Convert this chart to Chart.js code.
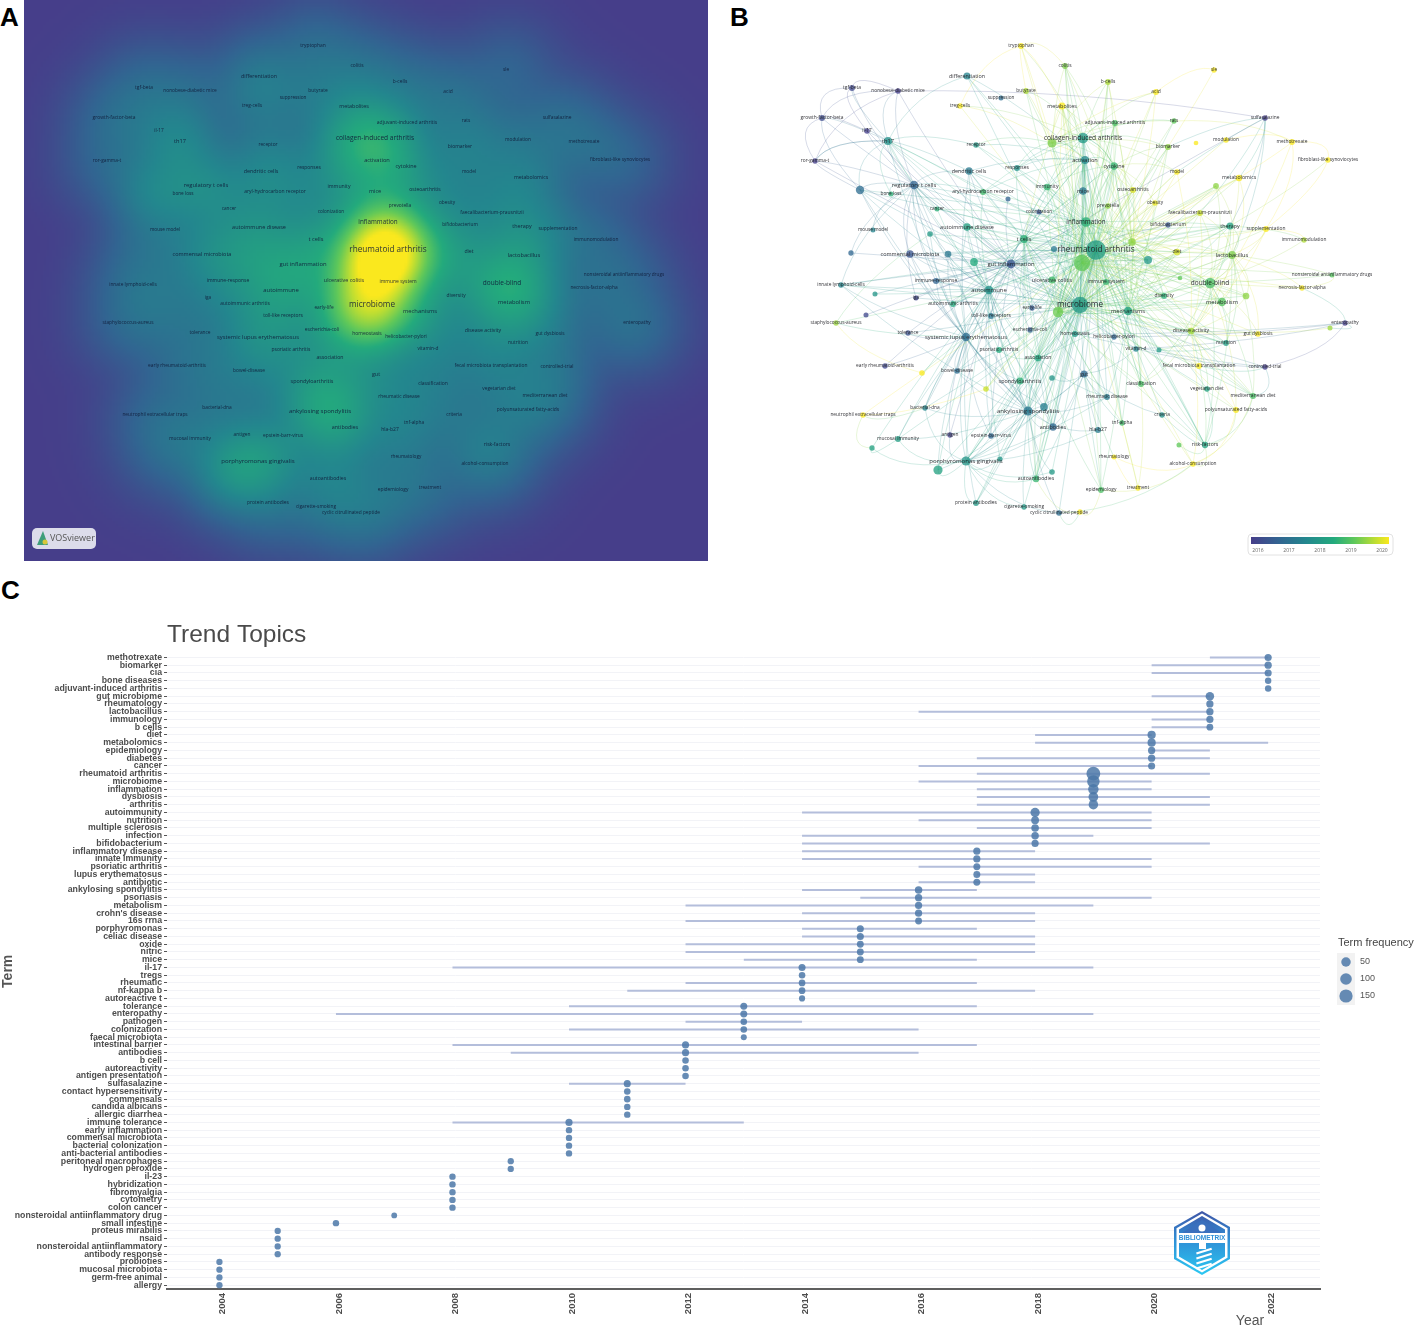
<!DOCTYPE html>
<html lang="en">
<head>
<meta charset="UTF-8">
<title>Keyword maps and trend topics</title>
<script src="https://cdn.jsdelivr.net/npm/chart.js"></script>
<style>
  html, body { margin: 0; padding: 0; background: #fff; overflow: hidden; }
  body { width: 1414px; height: 1327px; position: relative; font-family: 'Liberation Sans', sans-serif; }
  canvas { position: absolute; display: block; }
  #mapA { left: 24px; top: 0; }
  #mapB { left: 732px; top: 0; }
  #trend { left: 0; top: 600px; }
  .panel { position: absolute; font-size: 26px; font-weight: bold; color: #000; line-height: 26px; }
</style>
</head>
<body>
<div class="panel" style="left:0;top:4px">A</div>
<div class="panel" style="left:730px;top:4px">B</div>
<div class="panel" style="left:1px;top:577px">C</div>
<canvas id="mapA" width="684" height="561"></canvas>
<canvas id="mapB" width="682" height="561"></canvas>
<canvas id="trend" width="1414" height="727"></canvas>

<script>
// keyword map (panels A and B share the same layout)
const termLabels = ['tryptophan','colitis','differentiation','tgf-beta','nonobese-diabetic mice','b-cells','acid','sle','butyrate','suppression',
  'treg-cells','metabolites','growth-factor-beta','rats','adjuvant-induced arthritis','sulfasalazine','il-17','th17','receptor','collagen-induced arthritis',
  'modulation','methotrexate','biomarker','fibroblast-like synoviocytes','ror-gamma-t','activation','cytokine','responses','dendritic cells','model',
  'metabolomics','regulatory t cells','bone loss','immunity','aryl-hydrocarbon receptor','mice','osteoarthritis','prevotella','obesity','colonization',
  'cancer','faecalibacterium-prausnitzii','inflammation','bifidobacterium','therapy','supplementation','mouse model','autoimmune disease','immunomodulation','t cells',
  'rheumatoid arthritis','diet','lactobacillus','commensal microbiota','gut inflammation','ulcerative colitis','immune system','double-blind','nonsteroidal antiinflammatory drugs','immune-response',
  'innate lymphoid-cells','necrosis-factor-alpha','autoimmune','iga','autoimmunic arthritis','diversity','metabolism','microbiome','early-life','mechanisms',
  'toll-like receptors','enteropathy','staphylococcus-aureus','tolerance','systemic lupus erythematosus','escherichia-coli','homeostasis','helicobacter-pylori','disease activity','gut dysbiosis',
  'nutrition','vitamin-d','psoriatic arthritis','association','early rheumatoid-arthritis','fecal microbiota transplantation','controlled-trial','bowel-disease','gut','spondyloarthritis',
  'classification','vegetarian diet','mediterranean diet','rheumatic disease','polyunsaturated fatty-acids','bacterial-dna','neutrophil extracellular traps','ankylosing spondylitis','criteria','tnf-alpha',
  'antibodies','hla-b27','mucosal immunity','antigen','epstein-barr-virus','risk-factors','rheumatology','porphyromonas gingivalis','alcohol-consumption','autoantibodies',
  'epidemiology','treatment','protein antibodies','cigarette-smoking','cyclic citrullinated peptide','','','','','',
  '','','','','','','','','','',
  '','','','','','','','','','',
  '','','','',''];
const termX = [313,357,259,144,190,400,448,506,318,293,
  252,354,114,466,407,557,159,180,268,375,
  518,584,460,620,107,377,406,309,261,469,
  531,206,183,339,275,375,425,400,447,331,
  229,492,378,460,522,558,165,259,596,316,
  388,469,524,202,303,344,398,502,624,228,
  133,594,281,208,245,456,514,372,324,420,
  283,637,128,200,258,322,367,406,483,550,
  518,428,291,330,177,491,557,249,376,312,
  433,499,545,399,528,217,155,320,454,414,
  345,390,190,242,283,497,406,258,485,328,
  393,430,268,316,351,372,152,300,222,143,
  240,266,346,374,344,488,508,424,440,472,
  167,158,350,214,278,344,336,292,230,164,
  344,538,622,451,471];
const termY = [46,66,76,88,91,82,92,70,91,98,
  106,106,118,121,123,118,131,141,145,138,
  140,142,147,160,161,160,166,168,171,172,
  178,185,194,187,192,191,190,206,203,212,
  209,213,222,225,226,229,230,227,240,239,
  250,252,255,254,264,280,282,283,275,281,
  285,288,290,298,304,296,302,305,308,311,
  316,323,323,333,337,330,334,337,331,334,
  343,349,350,358,366,366,367,371,374,381,
  384,389,396,397,410,408,415,411,415,423,
  427,430,439,435,436,445,457,461,464,479,
  490,488,503,507,513,512,190,199,234,253,
  254,262,249,263,143,143,186,242,260,278,
  294,315,312,373,389,378,407,459,470,448,
  472,296,328,350,445];
const termOcc = [8,8,14,8,7,8,8,6,8,5,
  7,14,8,6,9,7,7,20,7,40,
  7,8,9,6,6,20,15,8,15,7,
  11,22,5,12,9,16,9,7,7,5,
  5,8,32,6,14,8,5,17,6,18,
  170,12,20,16,25,14,9,38,5,9,
  7,6,24,5,8,8,22,110,6,22,
  8,6,6,6,22,6,9,6,12,7,
  8,7,8,12,6,8,6,7,14,14,
  9,7,9,8,8,6,6,28,6,6,
  15,9,8,6,7,10,5,28,7,11,
  8,6,8,6,7,6,22,5,7,6,
  12,18,9,110,26,4,8,16,20,4,
  5,5,38,7,7,7,18,5,28,6,
  7,12,5,5,5];
const termYear = [2020,2019.2,2017.5,2016.2,2016,2019.5,2020,2020,2019.5,2017,
  2020,2020,2016.3,2019,2018.8,2016,2016,2017.8,2018,2018,
  2020,2020,2019.3,2020,2016,2017.6,2018.6,2017.8,2017.3,2020,
  2020,2016.8,2018.5,2018.6,2018.7,2017.2,2019.8,2019.3,2019.9,2016.5,
  2018.5,2019.7,2018.5,2016.5,2018.2,2020,2017.5,2018.2,2019.5,2018.5,
  2018.1,2019.8,2019.2,2016.5,2016.5,2018.7,2018.6,2018.8,2018.9,2016.8,
  2017.6,2020,2017.8,2016.2,2018.4,2018.5,2018.9,2018,2016.6,2018.2,
  2017.2,2016,2019.4,2016.4,2017,2016.7,2018,2016.9,2019.4,2020,
  2018.1,2017.5,2018.4,2018.3,2016.2,2020,2016,2017,2016.9,2018.5,
  2018.8,2018.2,2018.8,2017.3,2020,2017.5,2020,2017.2,2017.8,2018.7,
  2016.9,2017.3,2018.1,2016.1,2016.9,2018.2,2020,2017.9,2020,2018.6,
  2018.8,2020,2018,2018,2017,2020,2017,2016.8,2018,2016.9,
  2017.2,2018.4,2017.3,2019,2019.2,2020,2019.3,2019.3,2018,2019,
  2017.9,2016.2,2019.1,2020,2019.7,2017.9,2017.4,2017.9,2018.2,2018.2,
  2018,2019.3,2019.4,2018,2019];

// co-occurrence links: term index -> linked term indexes
const termLinks = {
  50: [1,2,5,6,8,11,14,17,18,19,22,25,26,27,28,29,30,31,33,34,35,36,37,38,39,40,41,42,44,45,47,49,51,52,53,54,55,56,57,59,60,62,64,65,66,67,68,69,70,74,75,76,77,78,80,81,82,83,85,87,88,89,90,91,92,93,97,98,99,100,101,104,105,107,109,110,112,113,114,116,118,120,121,122,123,124,126,127,128,129,132,134,135,136,140,141,143],
  67: [1,2,5,8,11,13,17,19,22,25,26,28,30,31,33,35,36,37,38,41,42,43,44,45,47,49,51,52,53,54,55,56,57,59,60,62,63,65,66,68,69,70,73,75,76,77,78,79,80,81,83,85,86,87,88,89,91,92,93,94,95,97,100,102,104,105,107,109,112,116,118,120,121,122,123,124,126,127,128,129,132,136,138,141],
  123: [0,1,5,6,10,11,13,14,19,20,22,25,26,29,30,33,36,37,38,41,42,44,45,47,49,51,52,55,56,57,58,61,62,65,66,69,78,79,80,83,85,90,92,94,105,108,110,111,124,126,127,129,132,133,134,141],
  42: [2,11,14,18,19,25,26,27,28,31,33,34,35,36,37,40,44,47,49,51,52,54,55,56,57,62,64,65,66,69,74,78,82,83,89,90,97,99,100,105,109,116,121,127,128,132],
  54: [4,15,16,17,24,28,31,33,35,39,43,47,49,53,55,59,60,62,63,68,70,73,75,77,84,87,88,95,103,104,117,119,120,122,128,130,131],
  62: [17,28,31,34,40,47,49,53,59,60,64,70,74,82,83,87,89,95,97,100,102,104,107,116,118,120,121,130,136,137,138,139],
  74: [17,28,31,47,53,59,60,72,73,84,87,89,95,97,100,102,103,104,107,112,116,118,120,133,136,138],
  97: [31,47,53,60,82,83,87,88,89,93,95,100,101,102,104,107,109,112,113,114,116,120,135,136,137,138,140],
  107: [83,88,89,93,95,100,101,102,103,104,109,112,113,114,136,137,138,139,140],
  31: [3,4,12,16,17,24,28,32,34,40,46,47,53,59,60,63,116,118,119,120],
  17: [2,3,12,16,18,24,28,32,34,40,49,116],
  19: [0,1,5,6,8,10,11,13,14,22,25,26,27,29,33,34,35,36,124],
  124: [0,1,5,6,8,10,11,13,14,18,22,25,27,36],
  57: [30,41,44,45,48,52,58,61,66,78,79,80,90,92,94,105,126,127,141],
  88: [77,81,93,98,99,100,101,106,109,110,135],
  78: [21,29,41,44,45,79,80,85,90,91,92,94,105,108,141,142],
  49: [11,19,25,26,27,28,33,34,35,42,44,47,55,56,62,64,69,76,83,89,97,100,109,121,128,132],
  69: [11,19,22,25,26,36,37,38,41,44,51,52,55,56,57,65,66,76,78,80,83,90,92,93,99,105,110,127,128,132,143],
  132: [11,14,19,25,26,33,36,37,38,41,42,44,47,49,51,52,55,56,57,65,66,69,76,78,82,83,89,90,93,99,105,109,110,127,134],
  127: [1,5,6,14,19,22,26,29,30,33,36,37,38,41,44,51,52,55,56,57,65,66,78,90,126],
  26: [1,5,11,14,19,22,25,29,33,35,36,37,38,55,56,65,90,124],
  52: [30,41,44,45,51,61,65,66,78,79,80,92,105,126,141],
  25: [2,18,27,28,33,34,35,49,55,56,83],
  83: [55,56,76,82,89,93,97,100,109,110,121],
  3: [4,12,16], 4: [12,15,17,24], 12: [16,24,116], 24: [17,116],
  15: [22,30,41,44,52,29], 21: [13,20,23,30,45], 23: [44,45], 7: [6,22],
  0: [1,8,10,11], 71: [61,76,77,81,86,142], 86: [76,81,85,92],
  96: [95,133,134,139], 72: [62,118,133], 102: [139], 105: [91,92,94,98,108,144],
  108: [90,92,94,106,110,114], 111: [90,99,106], 115: [109,110,114],
  48: [44,45], 58: [52,61], 143: [78,80]
};
const mapYearTicks = [2016,2017,2018,2019,2020];

// trend topics
const trendTerms = ['methotrexate','biomarker','cia','bone diseases','adjuvant-induced arthritis','gut microbiome','rheumatology','lactobacillus','immunology','b cells',
  'diet','metabolomics','epidemiology','diabetes','cancer','rheumatoid arthritis','microbiome','inflammation','dysbiosis','arthritis',
  'autoimmunity','nutrition','multiple sclerosis','infection','bifidobacterium','inflammatory disease','innate immunity','psoriatic arthritis','lupus erythematosus','antibiotic',
  'ankylosing spondylitis','psoriasis','metabolism',"crohn's disease",'16s rrna','porphyromonas','celiac disease','oxide','nitric','mice',
  'il-17','tregs','rheumatic','nf-kappa b','autoreactive t','tolerance','enteropathy','pathogen','colonization','faecal microbiota',
  'intestinal barrier','antibodies','b cell','autoreactivity','antigen presentation','sulfasalazine','contact hypersensitivity','commensals','candida albicans','allergic diarrhea',
  'immune tolerance','early inflammation','commensal microbiota','bacterial colonization','anti-bacterial antibodies','peritoneal macrophages','hydrogen peroxide','il-23','hybridization','fibromyalgia',
  'cytometry','colon cancer','nonsteroidal antiinflammatory drug','small intestine','proteus mirabilis','nsaid','nonsteroidal antiinflammatory','antibody response','probioties','mucosal microbiota',
  'germ-free animal','allergy'];
const trendMedian = [2022,2022,2022,2022,2022,2021,2021,2021,2021,2021,
  2020,2020,2020,2020,2020,2019,2019,2019,2019,2019,
  2018,2018,2018,2018,2018,2017,2017,2017,2017,2017,
  2016,2016,2016,2016,2016,2015,2015,2015,2015,2015,
  2014,2014,2014,2014,2014,2013,2013,2013,2013,2013,
  2012,2012,2012,2012,2012,2011,2011,2011,2011,2011,
  2010,2010,2010,2010,2010,2009,2009,2008,2008,2008,
  2008,2008,2007,2006,2005,2005,2005,2005,2004,2004,
  2004,2004];
const trendStart = [2021,2020,2020,2022,2022,2020,2021,2016,2020,2020,
  2018,2018,2020,2017,2016,2017,2016,2017,2017,2017,
  2014,2016,2017,2014,2014,2014,2014,2016,2017,2016,
  2014,2015,2012,2014,2012,2014,2014,2012,2012,2013,
  2008,2014,2012,2011,2014,2010,2006,2012,2010,2013,
  2008,2009,2012,2012,2012,2010,2011,2011,2011,2011,
  2008,2010,2010,2010,2010,2009,2009,2008,2008,2008,
  2008,2008,2007,2006,2005,2005,2005,2005,2004,2004,
  2004,2004];
const trendEnd = [2022,2022,2022,2022,2022,2021,2021,2021,2021,2021,
  2020,2022,2021,2021,2020,2021,2020,2020,2021,2021,
  2020,2020,2020,2019,2021,2018,2020,2020,2018,2018,
  2017,2020,2019,2018,2018,2017,2018,2018,2018,2017,
  2019,2014,2017,2018,2014,2017,2019,2014,2016,2013,
  2017,2016,2012,2012,2012,2012,2011,2011,2011,2011,
  2013,2010,2010,2010,2010,2009,2009,2008,2008,2008,
  2008,2008,2007,2006,2005,2005,2005,2005,2004,2004,
  2004,2004];
const trendFreq = [15,16,14,8,8,32,16,16,15,11,
  28,28,16,16,14,170,125,70,55,50,
  45,22,20,18,15,15,15,13,13,13,
  18,16,15,15,12,14,14,12,12,12,
  14,9,10,10,6,13,13,9,9,5,
  14,14,9,9,9,14,9,9,8,8,
  15,8,8,8,8,7,7,8,8,8,
  8,8,4,8,7,7,7,7,7,7,
  7,7];
const freqLegend = [50,100,150];

const ramp = [[0,70,62,138],[.2,50,100,145],[.4,35,135,142],[.6,35,170,125],[.75,95,200,90],[.9,190,222,50],[1,250,232,30]];
function rampColor(t) {
  t = Math.max(0, Math.min(1, t));
  let i = 1;
  while (i < ramp.length - 1 && ramp[i][0] < t) i++;
  const a = ramp[i - 1], b = ramp[i], k = (t - a[0]) / (b[0] - a[0]);
  return [1, 2, 3].map(c => Math.round(a[c] + (b[c] - a[c]) * k));
}
function yearColor(year, alpha) {
  const c = rampColor((year - 2016) / 4);
  return `rgba(${c[0]},${c[1]},${c[2]},${alpha})`;
}
const fontSize = occ => Math.min(8.2, 3.6 + 0.47 * Math.sqrt(occ));
const nodeRadius = occ => 1 + 0.68 * Math.sqrt(occ);
const dotRadius = freq => 2.2 + 0.36 * Math.sqrt(freq);

const termPoints = termX.map((x, i) => ({ x: x, y: termY[i] }));

function mapOptions(xMax) {
  return {
    responsive: false,
    animation: false,
    layout: { padding: 0, autoPadding: false },
    plugins: { legend: { display: false }, tooltip: { enabled: false } },
    scales: {
      x: { type: 'linear', min: 24, max: xMax, display: false },
      y: { type: 'linear', min: 0, max: 561, reverse: true, display: false }
    }
  };
}

function drawTermLabels(chart, color) {
  const ctx = chart.ctx;
  ctx.save();
  ctx.textAlign = 'center';
  ctx.textBaseline = 'middle';
  ctx.fillStyle = color;
  termLabels.forEach((label, i) => {
    if (!label) return;
    ctx.font = `${fontSize(termOcc[i]).toFixed(1)}px 'Open Sans'`;
    ctx.fillText(label, chart.scales.x.getPixelForValue(termX[i]), chart.scales.y.getPixelForValue(termY[i]));
  });
  ctx.restore();
}

// panel A: kernel density of the term occurrences
const densityLayer = {
  id: 'densityLayer',
  beforeDatasetsDraw(chart) {
    const { ctx, chartArea: area, scales } = chart;
    const cell = 3, sigma = 26;
    const w = Math.ceil(area.width / cell), h = Math.ceil(area.height / cell);
    const off = document.createElement('canvas');
    off.width = w; off.height = h;
    const offCtx = off.getContext('2d');
    const img = offCtx.createImageData(w, h);
    const px = termX.map(v => scales.x.getPixelForValue(v));
    const py = termY.map(v => scales.y.getPixelForValue(v));
    for (let j = 0; j < h; j++) {
      for (let i = 0; i < w; i++) {
        let d = 0;
        for (let k = 0; k < px.length; k++) {
          const dx = i * cell + area.left - px[k], dy = j * cell + area.top - py[k];
          d += termOcc[k] * Math.exp(-(dx * dx + dy * dy) / (2 * sigma * sigma));
        }
        const c = rampColor(Math.pow(d / 230, 0.45));
        const o = (j * w + i) * 4;
        img.data[o] = c[0]; img.data[o + 1] = c[1]; img.data[o + 2] = c[2]; img.data[o + 3] = 255;
      }
    }
    offCtx.putImageData(img, 0, 0);
    ctx.imageSmoothingEnabled = true;
    ctx.drawImage(off, area.left, area.top, w * cell, h * cell);
  },
  afterDatasetsDraw(chart) {
    drawTermLabels(chart, 'rgba(15,25,55,0.88)');
    // VOSviewer badge
    const ctx = chart.ctx;
    ctx.save();
    ctx.fillStyle = '#dcdcea';
    ctx.beginPath();
    ctx.roundRect(8, 528, 64, 21, 5);
    ctx.fill();
    ctx.fillStyle = '#3f9e7a';
    ctx.beginPath(); ctx.moveTo(19, 531); ctx.lineTo(13, 545); ctx.lineTo(24, 545); ctx.closePath(); ctx.fill();
    ctx.fillStyle = '#d8c83a';
    ctx.beginPath(); ctx.arc(21, 542, 2.5, 0, Math.PI * 2); ctx.fill();
    ctx.fillStyle = '#555';
    ctx.font = "9px 'Open Sans'";
    ctx.textBaseline = 'middle';
    ctx.fillText('VOSviewer', 26, 538.5);
    ctx.restore();
  }
};

// panel B: links under the nodes, labels and year bar on top
const linkLayer = {
  id: 'linkLayer',
  beforeDatasetsDraw(chart) {
    const { ctx, scales } = chart;
    const cx = scales.x.getPixelForValue(370), cy = scales.y.getPixelForValue(270);
    ctx.save();
    ctx.lineWidth = 0.8;
    Object.keys(termLinks).forEach(from => {
      termLinks[from].forEach(to => {
        const x0 = scales.x.getPixelForValue(termX[from]), y0 = scales.y.getPixelForValue(termY[from]);
        const x1 = scales.x.getPixelForValue(termX[to]), y1 = scales.y.getPixelForValue(termY[to]);
        const mx = (x0 + x1) / 2, my = (y0 + y1) / 2;
        ctx.strokeStyle = yearColor((termYear[from] + termYear[to]) / 2 + 0.2, 0.26);
        ctx.beginPath();
        ctx.moveTo(x0, y0);
        ctx.quadraticCurveTo(mx + (mx - cx) * 0.1, my + (my - cy) * 0.1, x1, y1);
        ctx.stroke();
      });
    });
    ctx.restore();
  },
  afterDatasetsDraw(chart) {
    drawTermLabels(chart, 'rgba(35,35,40,0.92)');
    const ctx = chart.ctx;
    ctx.save();
    ctx.strokeStyle = '#e2e2e2';
    ctx.beginPath();
    ctx.roundRect(516, 534, 145, 21, 4);
    ctx.stroke();
    const bar = ctx.createLinearGradient(519, 0, 657, 0);
    ramp.forEach(s => bar.addColorStop(s[0], `rgb(${s[1]},${s[2]},${s[3]})`));
    ctx.fillStyle = bar;
    ctx.fillRect(519, 537, 138, 7);
    ctx.fillStyle = '#666';
    ctx.font = "5px 'Open Sans'";
    ctx.textAlign = 'center';
    mapYearTicks.forEach((year, i) => {
      ctx.fillText(String(year), 526 + i * 31, 552);
    });
    ctx.restore();
  }
};

const chartA = new Chart(document.getElementById('mapA'), {
  type: 'scatter',
  data: { datasets: [{ data: termPoints, pointRadius: 0 }] },
  options: mapOptions(708),
  plugins: [densityLayer]
});

const chartB = new Chart(document.getElementById('mapB'), {
  type: 'scatter',
  data: {
    datasets: [{
      data: termPoints,
      pointRadius: termOcc.map(nodeRadius),
      pointBackgroundColor: termYear.map(y => yearColor(y, 0.76)),
      pointBorderWidth: 0
    }]
  },
  options: mapOptions(706),
  plugins: [linkLayer]
});

// panel C
const rangeData = [];
trendTerms.forEach((term, i) => {
  if (trendEnd[i] > trendStart[i]) {
    rangeData.push({ x: trendStart[i], y: term }, { x: trendEnd[i], y: term }, { x: null, y: null });
  }
});

const trendExtras = {
  id: 'trendExtras',
  afterDraw(chart) {
    const ctx = chart.ctx;
    ctx.save();
    ctx.fillStyle = '#4a4a4a';
    ctx.font = "24.5px 'Liberation Sans'";
    ctx.textBaseline = 'middle';
    ctx.fillText('Trend Topics', 167, 35);
    ctx.fillStyle = '#555';
    ctx.font = "14px 'Liberation Sans'";
    ctx.textAlign = 'center';
    ctx.fillText('Year', 1250, 721);

    // size legend
    ctx.textAlign = 'left';
    ctx.fillStyle = '#444';
    ctx.font = "11px 'Liberation Sans'";
    ctx.fillText('Term frequency', 1338, 343);
    ctx.fillStyle = '#f2f2f2';
    ctx.fillRect(1337, 353, 18, 52);
    freqLegend.forEach((f, i) => {
      const y = 362 + i * 17;
      ctx.fillStyle = 'rgba(76,120,168,0.85)';
      ctx.beginPath();
      ctx.arc(1346, y, dotRadius(f), 0, Math.PI * 2);
      ctx.fill();
      ctx.fillStyle = '#555';
      ctx.font = "9px 'Liberation Sans'";
      ctx.fillText(String(f), 1360, y);
    });

    // bibliometrix logo
    const cx = 1202, top = 611, bottom = 675, hw = 28;
    const hex = inset => {
      ctx.beginPath();
      ctx.moveTo(cx, top + inset);
      ctx.lineTo(cx + hw - inset, top + 16 + inset / 2);
      ctx.lineTo(cx + hw - inset, bottom - 16 - inset / 2);
      ctx.lineTo(cx, bottom - inset);
      ctx.lineTo(cx - hw + inset, bottom - 16 - inset / 2);
      ctx.lineTo(cx - hw + inset, top + 16 + inset / 2);
      ctx.closePath();
    };
    const grad = ctx.createLinearGradient(0, top, 0, bottom);
    grad.addColorStop(0, '#3f55a6');
    grad.addColorStop(0.45, '#2f8fd6');
    grad.addColorStop(1, '#2bc8f2');
    hex(0); ctx.fillStyle = grad; ctx.fill();
    hex(2.5); ctx.fillStyle = '#fff'; ctx.fill();
    hex(5); ctx.fillStyle = grad; ctx.fill();
    ctx.fillStyle = '#fff';
    ctx.fillRect(cx - hw + 3, 633, 2 * hw - 6, 10);
    ctx.beginPath();
    ctx.moveTo(cx - 20, 633); ctx.lineTo(cx, 620); ctx.lineTo(cx + 20, 633);
    ctx.closePath();
    ctx.fillStyle = '#3a70bd';
    ctx.fill();
    ctx.fillStyle = '#fff';
    ctx.beginPath(); ctx.arc(cx, 628, 3.5, 0, Math.PI * 2); ctx.fill();
    ctx.fillRect(cx - 3, 643, 7, 6);
    for (let i = 0; i < 4; i++) {
      ctx.save();
      ctx.translate(cx + 2, 651 + i * 5);
      ctx.rotate(-0.3);
      ctx.fillRect(-8, -1, 16, 2.2);
      ctx.restore();
    }
    ctx.fillStyle = '#2f8fd6';
    ctx.font = "bold 6.5px 'Liberation Sans'";
    ctx.textAlign = 'center';
    ctx.fillText('BIBLIOMETRIX', cx, 638.5);
    ctx.restore();
  }
};

const chartC = new Chart(document.getElementById('trend'), {
  type: 'scatter',
  data: {
    datasets: [
      {
        label: 'Median year',
        data: trendTerms.map((t, i) => ({ x: trendMedian[i], y: t })),
        pointRadius: trendFreq.map(dotRadius),
        pointBackgroundColor: 'rgba(76,120,168,0.85)',
        pointBorderWidth: 0,
        order: 1
      },
      {
        label: 'Term range',
        data: rangeData,
        showLine: true,
        spanGaps: false,
        pointRadius: 0,
        borderColor: '#b4bedb',
        borderWidth: 2,
        order: 2
      }
    ]
  },
  options: {
    responsive: false,
    animation: false,
    layout: { padding: { top: 53.6, right: 94, left: 0, bottom: 0 }, autoPadding: false },
    plugins: { legend: { display: false }, tooltip: { enabled: false } },
    scales: {
      x: {
        type: 'linear',
        min: 2003.1,
        max: 2022.89,
        afterFit: s => { s.height = 38; },
        grid: { display: false },
        border: { color: '#5f5f5f', width: 2 },
        ticks: {
          stepSize: 2,
          includeBounds: false,
          minRotation: 90,
          maxRotation: 90,
          padding: -4,
          labelOffset: 3,
          color: '#4d4d4d',
          font: { family: "'Liberation Sans'", size: 9.5, weight: 'bold' },
          callback: v => String(v)
        }
      },
      y: {
        type: 'category',
        labels: trendTerms,
        offset: true,
        afterFit: s => { s.width = 167; },
        border: { display: false },
        grid: { color: '#f2f3f7', lineWidth: 1, offset: false, tickColor: '#555', tickLength: 3 },
        title: {
          display: true,
          text: 'Term',
          color: '#555',
          padding: 0,
          font: { family: "'Liberation Sans'", size: 14, weight: 'bold' }
        },
        ticks: {
          autoSkip: false,
          padding: 2,
          color: '#4d4d4d',
          font: { family: "'Liberation Sans'", size: 8.75, weight: 'bold' }
        }
      }
    }
  },
  plugins: [trendExtras]
});
</script>
</body>
</html>
